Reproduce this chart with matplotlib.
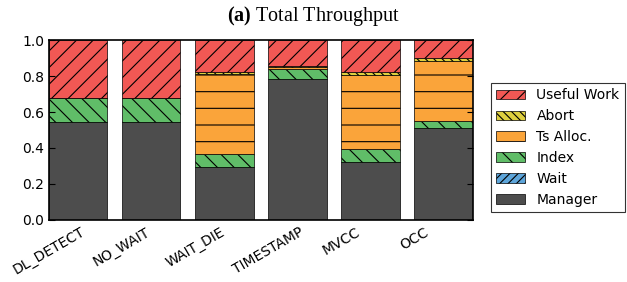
import numpy as np
import matplotlib
matplotlib.use('Agg')
import matplotlib.pyplot as plt

# data
algos = ['DL_DETECT', 'NO_WAIT', 'WAIT_DIE', 'TIMESTAMP', 'MVCC', 'OCC']
manager = [0.546, 0.542, 0.294, 0.786, 0.322, 0.512]
wait = [0.0, 0.0, 0.0, 0.0, 0.0, 0.0]
index = [0.130, 0.134, 0.075, 0.052, 0.073, 0.037]
ts_alloc = [0.0, 0.0, 0.440, 0.010, 0.408, 0.336]
abort = [0.0, 0.0, 0.016, 0.006, 0.017, 0.017]
useful = [1 - m - w - i - t - a for m, w, i, t, a in zip(manager, wait, index, ts_alloc, abort)]

layers = [
    ('Manager', manager, '#4D4D4D', ''),
    ('Wait', wait, '#5DA5DA', '////'),
    ('Index', index, '#60BD68', '\\\\'),
    ('Ts Alloc.', ts_alloc, '#FAA43A', '-'),
    ('Abort', abort, '#DECF3F', '\\\\\\\\'),
    ('Useful Work', useful, '#F15854', '//'),
]

plt.rcParams['hatch.linewidth'] = 0.8
plt.rcParams['mathtext.fontset'] = 'custom'
plt.rcParams['mathtext.bf'] = 'Liberation Serif:bold'
fig = plt.figure(figsize=(6.27, 2.82), dpi=100)
ax = fig.add_axes([0.078, 0.22, 0.676, 0.638])

x = np.arange(len(algos))
bottom = np.zeros(len(algos))
for name, vals, col, hatch in layers:
    ax.bar(x, vals, 0.8, bottom=bottom, color=col, hatch=hatch,
           edgecolor='black', linewidth=0.5, label=name)
    bottom += np.array(vals)

ax.set_xlim(-0.4, len(algos) - 0.6)
ax.set_ylim(0, 1.0)
ax.set_yticks(np.arange(0, 1.01, 0.2))
ax.set_yticklabels(['%.1f' % v for v in np.arange(0, 1.01, 0.2)], fontsize=10)
# tick at the left edge of each bar, label centred on it
ax.set_xticks(x - 0.4)
ax.set_xticklabels(algos, rotation=30, ha='center', fontsize=10)
ax.tick_params(direction='in', right=True, top=True, length=4)
ax.tick_params(axis='x', length=0)
for s in ax.spines.values():
    s.set_linewidth(1.2)

h, l = ax.get_legend_handles_labels()
leg = ax.legend(h[::-1], l[::-1], loc='center left', bbox_to_anchor=(1.042, 0.403),
                borderaxespad=0, fontsize=10, fancybox=False, edgecolor='black',
                handlelength=2.1, handleheight=0.65, labelspacing=0.5,
                handletextpad=0.8)
leg.get_frame().set_linewidth(0.8)

fig.text(0.5, 0.925, r'$\mathbf{(a)}$ Total Throughput', ha='center',
         fontsize=14.5, family='Liberation Serif')
fig.savefig('out.png', dpi=100)
